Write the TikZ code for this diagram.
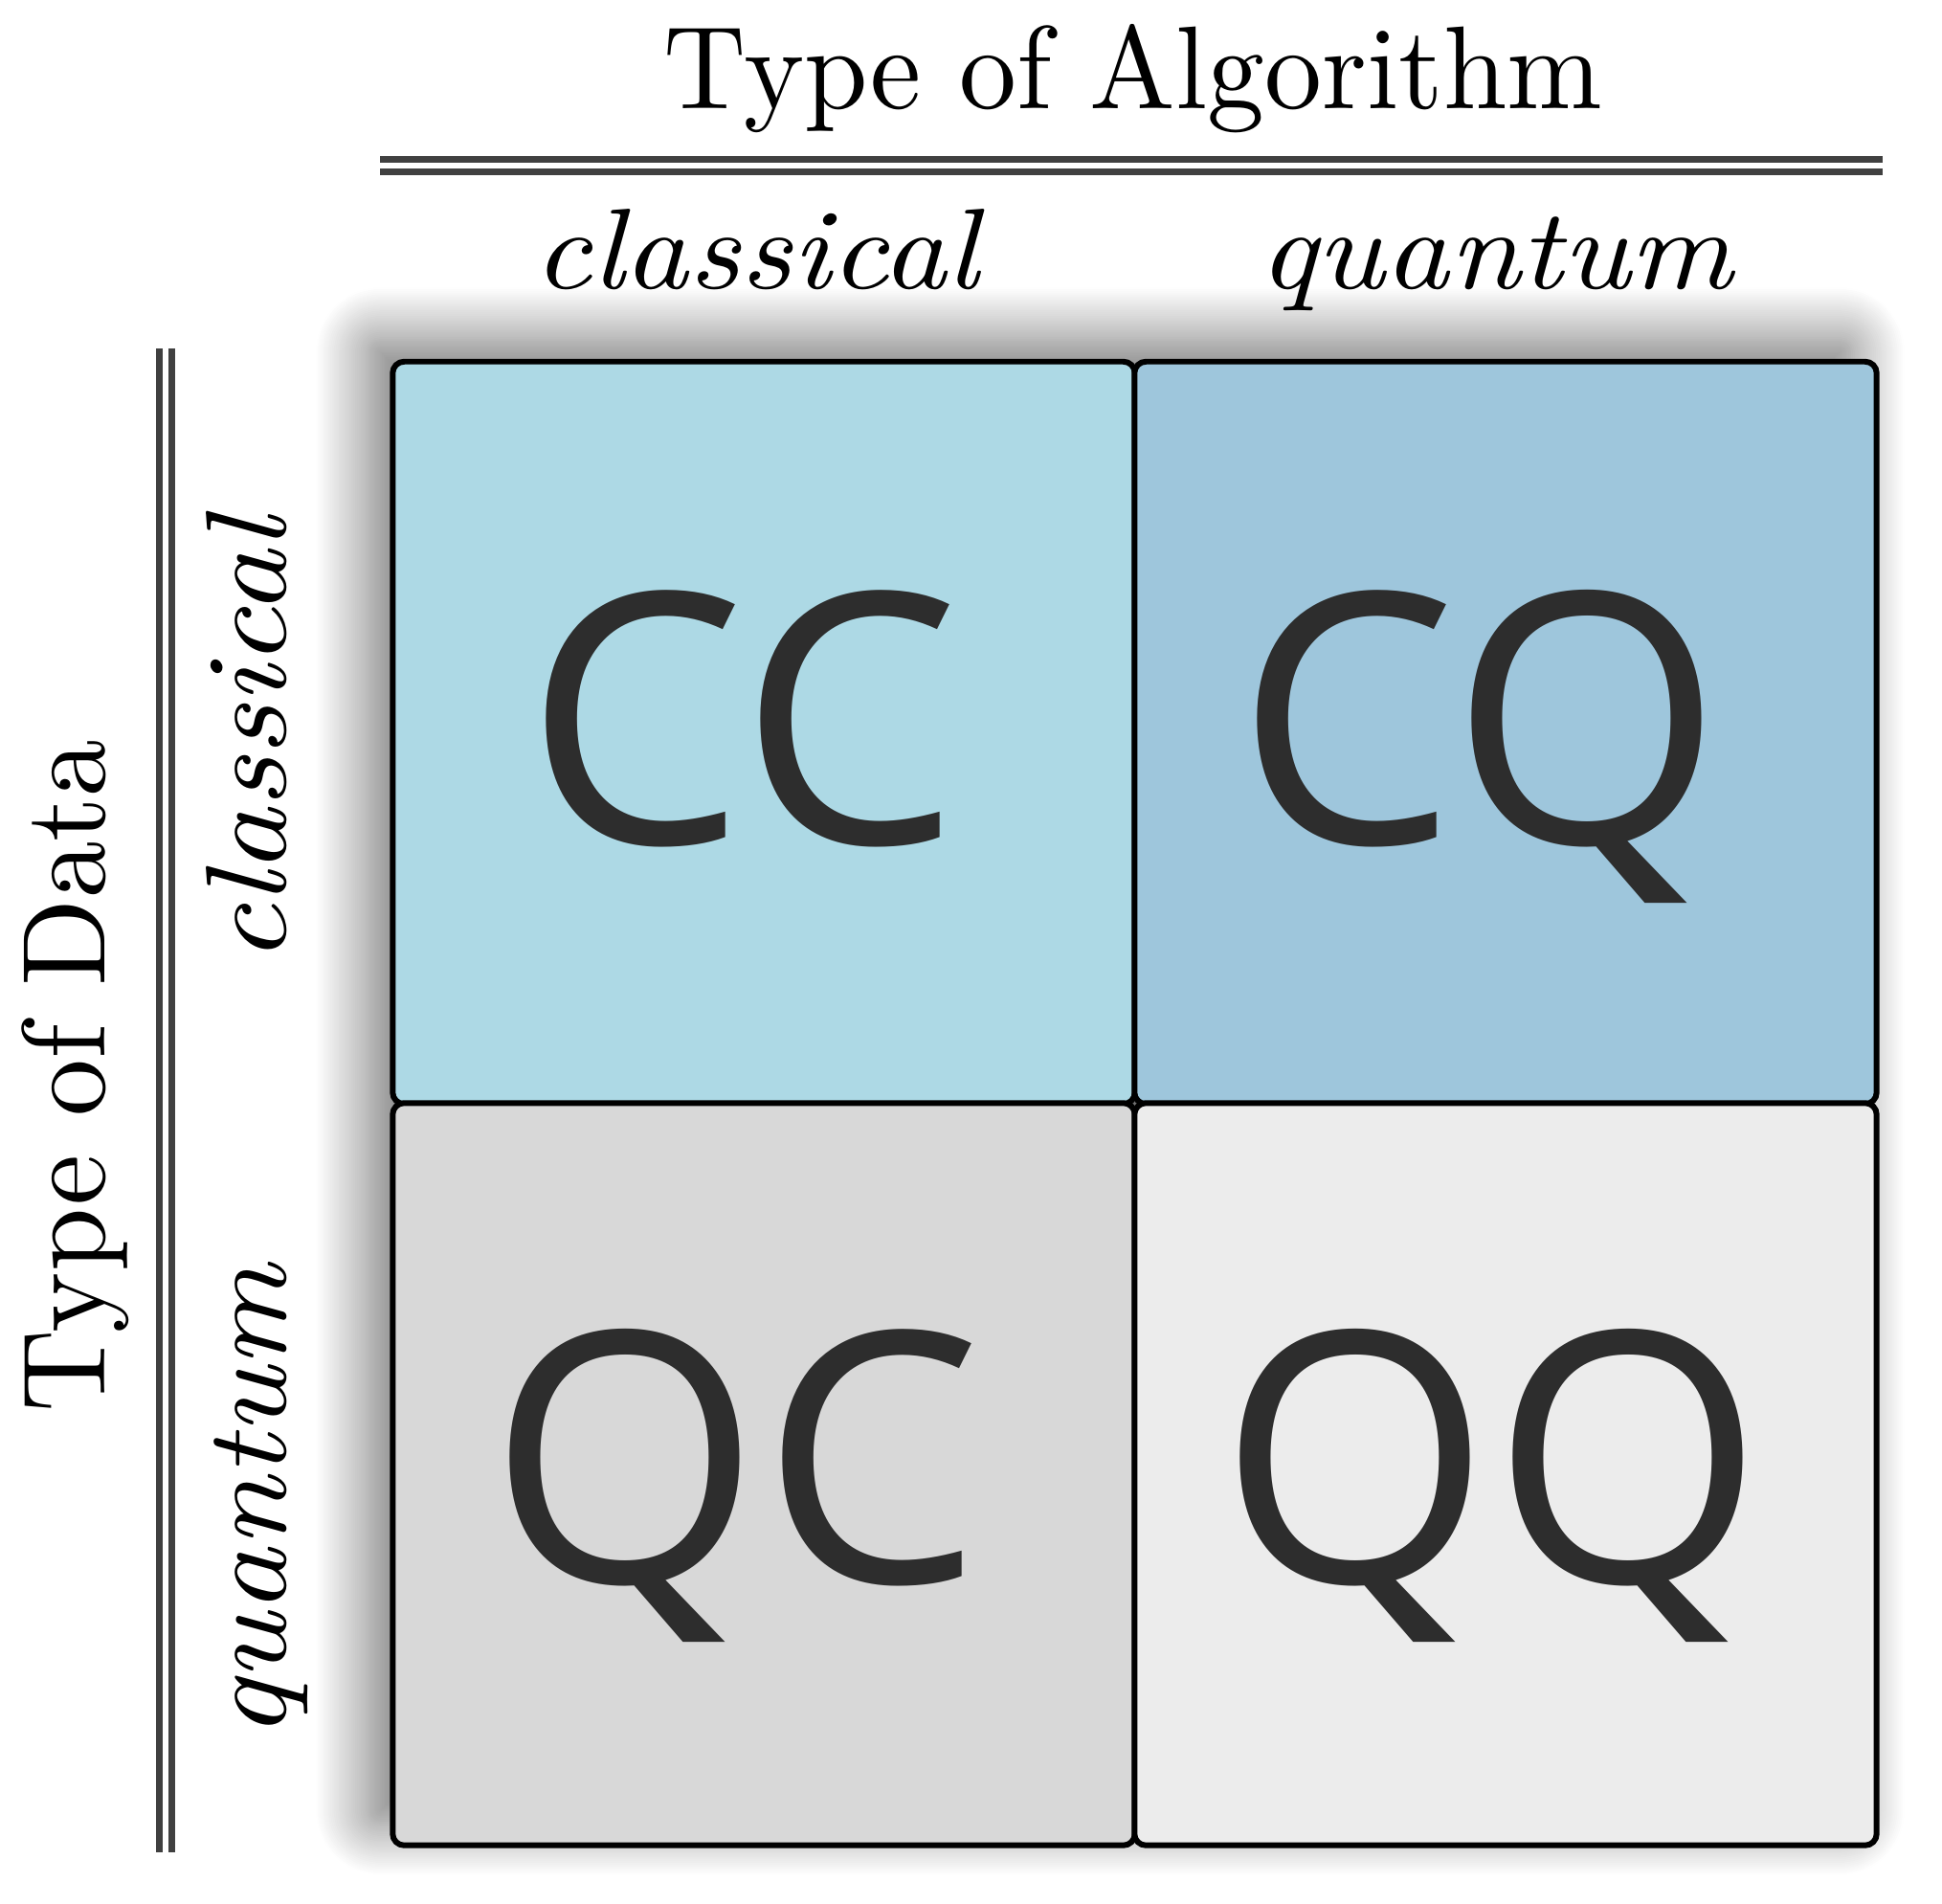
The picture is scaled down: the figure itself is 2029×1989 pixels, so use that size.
\documentclass[tikz,border=0pt]{standalone}
\usepackage{fontspec}
\newfontfamily\labelfont{Open Sans}
\usetikzlibrary{shadows.blur}
\definecolor{ccfill}{HTML}{ADD9E5}
\definecolor{cqfill}{HTML}{9EC6DC}
\definecolor{qcfill}{HTML}{D8D8D8}
\definecolor{qqfill}{HTML}{ECECEC}
\definecolor{rulegray}{HTML}{404040}
\definecolor{lettergray}{HTML}{2D2D2D}
\tikzset{
  box/.style={draw=black, line width=1.7pt, rounded corners=0.12cm,
    minimum width=7.75cm, minimum height=7.75cm, inner sep=0pt},
  shadowbox/.style={blur shadow={shadow xshift=-0.25cm, shadow yshift=0.23cm,
    shadow blur radius=0.55cm, shadow blur steps=30, shadow opacity=55}},
  biglabel/.style={font=\labelfont\fontsize{104}{116}\selectfont, text=lettergray, anchor=base, inner sep=0pt},
  head/.style={font=\fontsize{10}{12}\selectfont, transform shape, anchor=base, inner sep=0pt},
  headscale/.style={xscale=3.4, yscale=3.5},
  sub/.style={font=\fontsize{10}{12}\selectfont\itshape, transform shape, anchor=base, inner sep=0pt},
  subscale/.style={xscale=3.75, yscale=3.4},
  doublerule/.style={draw=rulegray, line width=0.07cm, double=white, double distance=0.06cm}
}
\begin{document}
\begin{tikzpicture}[x=0.01cm, y=-0.01cm]
\useasboundingbox (0,0) rectangle (2029,1989);
% one shadow under the whole grid
\path[shadowbox, rounded corners=0.12cm] (410,378) rectangle (1960,1927);
% boxes
\node[box, fill=ccfill] (cc) at (798,765.5) {};
\node[box, fill=cqfill] (cq) at (1573,765.5) {};
\node[box, fill=qcfill] (qc) at (798,1540) {};
\node[box, fill=qqfill] (qq) at (1573,1540) {};
% big labels
\node[biglabel] (cclabel) at (776,882) {CC};
\node[biglabel] (cqlabel) at (1546,882) {CQ};
\node[biglabel] (qclabel) at (768,1654) {QC};
\node[biglabel] (qqlabel) at (1558,1654) {QQ};
% headings
\node[head, headscale] (algo) at (1184,114) {Type of Algorithm};
\coordinate (topruleL) at (397,173);
\coordinate (topruleR) at (1967,173);
\draw[doublerule] (topruleL) -- (topruleR);
\node[sub, subscale] (colc) at (790,302) {classical};
\node[sub, subscale] (colq) at (1563,302) {quantum};
\node[head, rotate=90, headscale] (data) at (110,1124) {Type of Data};
\coordinate (leftruleT) at (173,364);
\coordinate (leftruleB) at (173,1935);
\draw[doublerule] (leftruleT) -- (leftruleB);
\node[sub, rotate=90, subscale] (rowc) at (298,774) {classical};
\node[sub, rotate=90, subscale] (rowq) at (298,1569) {quantum};
\end{tikzpicture}
\end{document}
